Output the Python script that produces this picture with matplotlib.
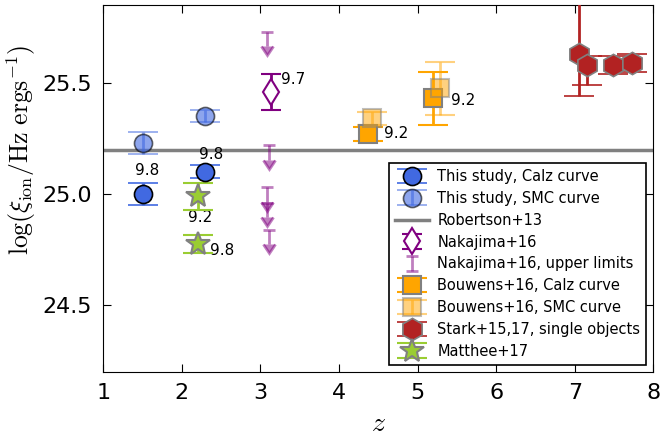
import numpy as np
import matplotlib
matplotlib.use("Agg")
import matplotlib.pyplot as plt

plt.rcParams['mathtext.fontset'] = 'cm'
plt.rcParams['font.family'] = 'DejaVu Sans'

# this study, Calzetti and SMC dust curves
z_calz = [1.5, 2.3]
xi_calz = [25.00, 25.10]
err_calz = [0.05, 0.03]
lab_calz = ["9.8", "9.8"]

z_smc = [1.5, 2.3]
xi_smc = [25.23, 25.35]
err_smc = [0.05, 0.028]

# Robertson+13 canonical value
xi_rob = 25.2

# Nakajima+16
z_nak = [3.14]
xi_nak = [25.46]
err_nak = [0.08]
lab_nak = ["9.7"]

# upper limits
z_nak_ul = [3.08, 3.11, 3.08, 3.08, 3.11]
xi_nak_ul = [25.73, 25.22, 25.03, 24.96, 24.84]

# Bouwens+16
z_bw_calz = [4.37, 5.20]
xi_bw_calz = [25.27, 25.43]
err_bw_calz = [0.03, 0.12]
lab_bw = ["9.2", "9.2"]

z_bw_smc = [4.42, 5.28]
xi_bw_smc = [25.34, 25.475]
err_bw_smc = [0.03, 0.12]

# Stark+15,17
z_stark = [7.05, 7.16, 7.49, 7.73]
xi_stark = [25.63, 25.58, 25.58, 25.59]
err_stark_lo = [0.19, 0.09, 0.04, 0.04]
err_stark_hi = [0.40, 0.04, 0.04, 0.04]

# Matthee+17
z_mat = [2.2, 2.2]
xi_mat = [24.99, 24.775]
err_mat = [0.06, 0.04]
lab_mat = ["9.2", "9.8"]

fig = plt.figure(figsize=(6.62, 4.36), dpi=100)
ax = fig.add_axes([0.156, 0.147, 0.831, 0.8415])

cap = dict(capsize=10.5, capthick=3, elinewidth=2)

h_calz = ax.errorbar(z_calz, xi_calz, yerr=err_calz, fmt='o', color='royalblue', ecolor='royalblue',
                     mec='k', mew=1.2, ms=13, label='This study, Calz curve', zorder=5, **cap)
h_smc = ax.errorbar(z_smc, xi_smc, yerr=err_smc, fmt='o', color='royalblue', ecolor='royalblue',
                    mec='k', mew=1.2, ms=13, alpha=0.6, label='This study, SMC curve', zorder=5, **cap)
h_rob = ax.axhline(xi_rob, color='grey', lw=2.5, label='Robertson+13', zorder=1)
h_nak = ax.errorbar(z_nak, xi_nak, yerr=err_nak, fmt='d', color='purple', mfc='white', mec='purple',
                    mew=1.5, ms=13, label='Nakajima+16', zorder=5, capsize=7, capthick=3, elinewidth=2)
h_ul = ax.errorbar(z_nak_ul, xi_nak_ul, yerr=0.065, uplims=True, fmt='none', color='purple',
                   ecolor='purple', alpha=0.5, capsize=4.5, capthick=2, elinewidth=2,
                   label='Nakajima+16, upper limits', zorder=4)
h_bwc = ax.errorbar(z_bw_calz, xi_bw_calz, yerr=err_bw_calz, fmt='s', color='orange', ecolor='orange',
                    mec='grey', mew=1.5, ms=13, label='Bouwens+16, Calz curve', zorder=5, **cap)
h_bws = ax.errorbar(z_bw_smc, xi_bw_smc, yerr=err_bw_smc, fmt='s', color='orange', ecolor='orange',
                    mec='grey', mew=1.5, ms=13, alpha=0.5, label='Bouwens+16, SMC curve', zorder=5, **cap)
h_st = ax.errorbar(z_stark, xi_stark, yerr=[err_stark_lo, err_stark_hi], fmt='h', color='firebrick',
                   ecolor='firebrick', mec='grey', mew=1.2, ms=16, label='Stark+15,17, single objects',
                   zorder=5, **cap)
h_mat = ax.errorbar(z_mat, xi_mat, yerr=err_mat, fmt='*', color='yellowgreen', ecolor='yellowgreen',
                    mec='grey', mew=1.5, ms=18, label='Matthee+17', zorder=5, **cap)

# stellar mass labels (log M*) next to points, offsets in points
def mass_labels(xs, ys, labels, offsets, ha):
    for x, y, t, off in zip(xs, ys, labels, offsets):
        ax.annotate(t, (x, y), xytext=off, textcoords='offset points',
                    ha=ha, va='center', fontsize=11)

mass_labels(z_calz, xi_calz, lab_calz, [(3, 17), (4, 12.5)], 'center')
mass_labels(z_nak, xi_nak, lab_nak, [(7, 9)], 'left')
mass_labels(z_bw_calz, xi_bw_calz, lab_bw, [(11.5, 0), (12.5, -1.2)], 'left')
mass_labels(z_mat[:1], xi_mat[:1], lab_mat[:1], [(2, -15.5)], 'center')
mass_labels(z_mat[1:], xi_mat[1:], lab_mat[1:], [(9, -5)], 'left')

ax.set_xlim(1, 8)
ax.set_ylim(24.2, 25.85)
ax.set_yticks([24.5, 25.0, 25.5])
ax.set_xticks(range(1, 9))
ax.tick_params(direction='in', top=True, right=True, labelsize=16, length=6, pad=8)
ax.set_xlabel(r'$z$', fontsize=20)
ax.set_ylabel(r'$\log(\xi_{\rm ion}/{\rm Hz\ ergs}^{-1})$', fontsize=18.5)
ax.yaxis.set_label_coords(-0.119, 0.605)

handles = [h_calz, h_smc, h_rob, h_nak, h_ul, h_bwc, h_bws, h_st, h_mat]
leg = ax.legend(handles=handles, labels=[h.get_label() for h in handles], loc='lower right',
                numpoints=1, fontsize=10.5, fancybox=False, framealpha=1, edgecolor='k',
                labelspacing=0.47, borderaxespad=0.5, handlelength=2.3, handletextpad=0.6,
                borderpad=0.4)
leg.get_frame().set_linewidth(1.2)

fig.savefig('out.png', dpi=100)
